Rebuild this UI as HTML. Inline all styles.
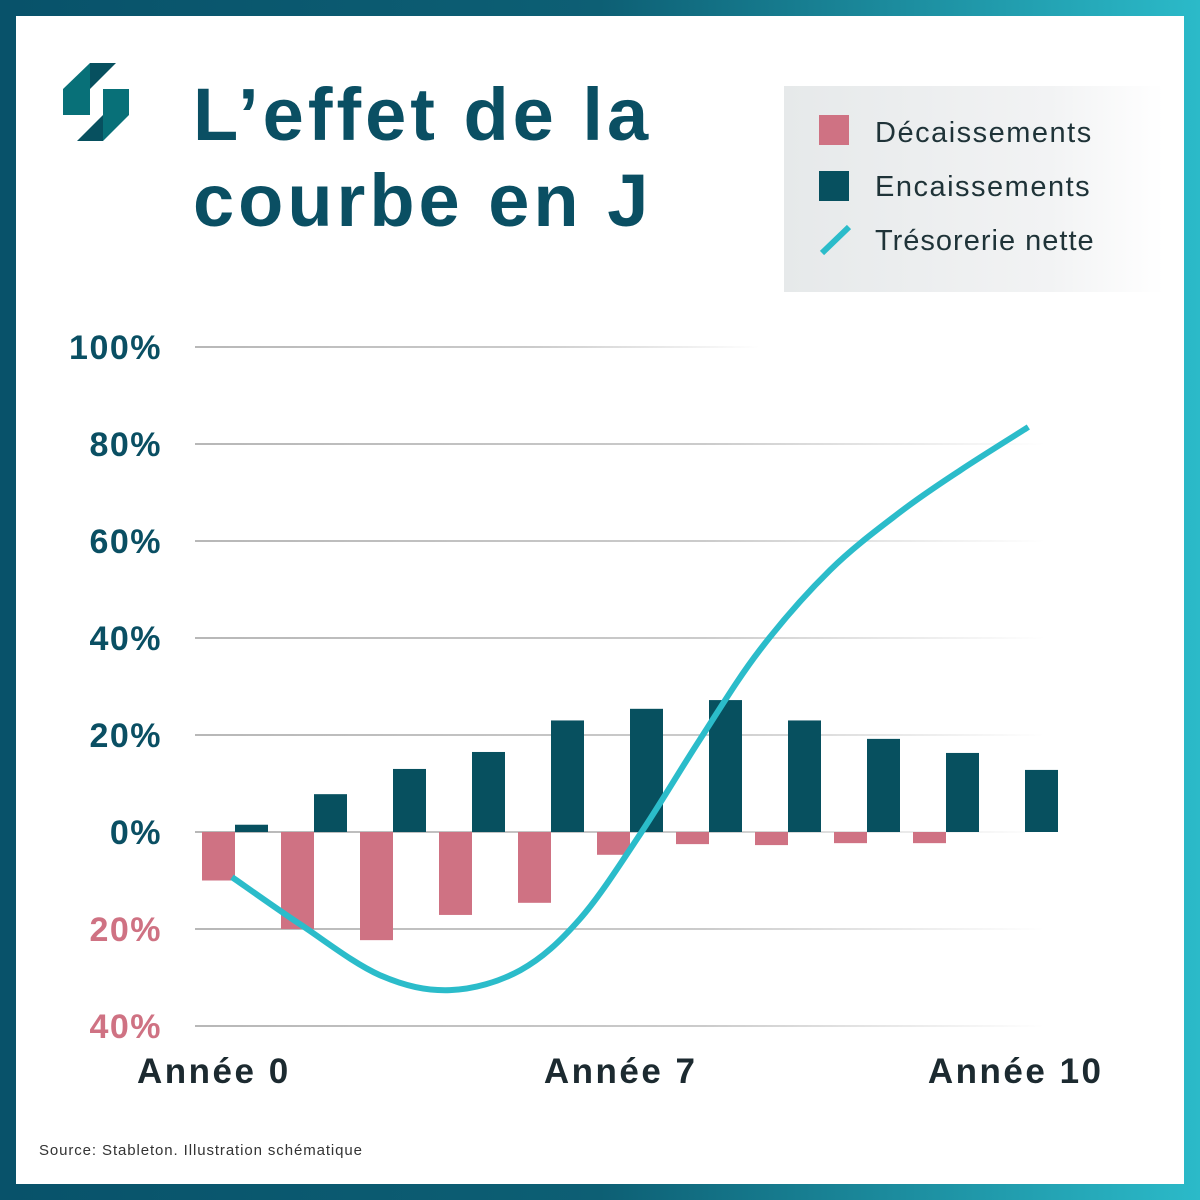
<!DOCTYPE html>
<html><head><meta charset="utf-8"><style>
html,body{margin:0;padding:0}
body{width:1200px;height:1200px;position:relative;font-family:"Liberation Sans",sans-serif;overflow:hidden}
.frame{position:absolute;left:0;top:0;width:1200px;height:1200px;background:linear-gradient(90deg,#08526a 0%,#0d5f74 50%,#2bbac9 100%)}
.inner{position:absolute;left:16px;top:16px;width:1168px;height:1168px;background:#fff}
</style></head><body>
<div class="frame"></div>
<div class="inner"></div>
<svg width="1200" height="1200" style="position:absolute;left:0;top:0">
<defs>
<linearGradient id="lg" x1="0" x2="1"><stop offset="0" stop-color="#e6e9ea"/><stop offset="0.7" stop-color="#f2f3f4"/><stop offset="1" stop-color="#ffffff"/></linearGradient>
<linearGradient id="gg" gradientUnits="userSpaceOnUse" x1="195" y1="0" x2="1045" y2="0"><stop offset="0" stop-color="#999"/><stop offset="0.6" stop-color="#b5b5b5"/><stop offset="1" stop-color="#fff"/></linearGradient>
<linearGradient id="gg2" gradientUnits="userSpaceOnUse" x1="195" y1="0" x2="760" y2="0"><stop offset="0" stop-color="#999"/><stop offset="0.6" stop-color="#b5b5b5"/><stop offset="1" stop-color="#fff"/></linearGradient>
</defs>
<g>
<polygon points="63,89 90,63 90,115 63,115" fill="#087078"/>
<polygon points="90,63 116,63 90,89" fill="#07505f"/>
<polygon points="103,89 129,89 129,115 103,141" fill="#087078"/>
<polygon points="103,115 103,141 77,141" fill="#07505f"/>
</g>
<text x="193" y="140" font-size="74" font-weight="bold" letter-spacing="4" fill="#0a4f63">L’effet de la</text>
<text x="193" y="226" font-size="74" font-weight="bold" letter-spacing="4" fill="#0a4f63">courbe en J</text>
<g>
<rect x="784" y="86" width="380" height="206" fill="url(#lg)"/>
<rect x="819" y="115" width="30" height="30" fill="#cf7283"/>
<text x="875" y="142" font-size="29" letter-spacing="1.5" fill="#1f3338">Décaissements</text>
<rect x="819" y="171" width="30" height="30" fill="#07505f"/>
<text x="875" y="196" font-size="29" letter-spacing="1.5" fill="#1f3338">Encaissements</text>
<line x1="822" y1="253" x2="849" y2="227" stroke="#2bbcca" stroke-width="6"/>
<text x="875" y="250" font-size="29" letter-spacing="1" fill="#1f3338">Trésorerie nette</text>
</g>
<g id="grid"></g><g id="bars"></g><g id="line"></g><g id="labels"></g>
<text x="39" y="1155" font-size="15" letter-spacing="0.9" fill="#333">Source: Stableton. Illustration schématique</text>
</svg>
<script>
const yTicks=[100,80,60,40,20,0,-20,-40];
const yTickLabels=["100%","80%","60%","40%","20%","0%","20%","40%"];
const encaissements=[1.5,7.8,13,16.5,23,25.4,27.2,23,19.2,16.3,12.8];
const decaissements=[-10,-20,-22.3,-17.1,-14.6,-4.7,-2.5,-2.7,-2.3,-2.3];
const tresorerie=[-9.3,-19,-29.5,-32.6,-28.5,-18,-0.6,19,37.5,54,66,74.6,83.5];
const tresoX=[0.38,1.24,2.25,3.14,4.03,4.78,5.54,6.3,7.06,7.95,8.84,9.6,10.46];
const xLabels=["Année 0","Année 7","Année 10"];
const xLabelPos=[0.15,5.3,10.3];
const NS="http://www.w3.org/2000/svg";
const y=v=>832-v*4.85;
const x=i=>202+i*79;
function mk(t,a,p){const e=document.createElementNS(NS,t);for(const k in a)e.setAttribute(k,a[k]);document.getElementById(p).appendChild(e);return e;}
yTicks.forEach((v,i)=>{
 const l=mk('rect',{x:195,width:v===100?565:850,y:y(v)-0.7,height:1.4,fill:v===100?'url(#gg2)':'url(#gg)'},'grid');
 
 
 const t=mk('text',{x:162,y:y(v)+12,'text-anchor':'end','font-size':34,'font-weight':'bold','letter-spacing':1.5,fill:v<0?'#cf7283':'#0a4f63'},'labels');
 t.textContent=yTickLabels[i];
 
 
});
decaissements.forEach((v,i)=>{
 const r=mk('rect',{x:x(i),y:y(0),width:33,height:y(v)-y(0),fill:'#cf7283'},'bars');
 
 
});
encaissements.forEach((v,i)=>{
 const r=mk('rect',{x:x(i)+33,y:y(v),width:33,height:y(0)-y(v),fill:'#07505f'},'bars');
 
 
});
const pts=tresorerie.map((v,i)=>[x(tresoX[i]),y(v)]);
let d='M'+pts[0][0]+','+pts[0][1];
for(let i=0;i<pts.length-1;i++){const p0=pts[Math.max(0,i-1)],p1=pts[i],p2=pts[i+1],p3=pts[Math.min(pts.length-1,i+2)];
 d+=` C${p1[0]+(p2[0]-p0[0])/6},${p1[1]+(p2[1]-p0[1])/6} ${p2[0]-(p3[0]-p1[0])/6},${p2[1]-(p3[1]-p1[1])/6} ${p2[0]},${p2[1]}`;}
const pl=mk('path',{d:d,fill:'none',stroke:'#2bbcca','stroke-width':6},'line');


xLabels.forEach((s,i)=>{
 const t=mk('text',{x:x(xLabelPos[i]),y:1083,'text-anchor':'middle','font-size':35,'font-weight':'bold','letter-spacing':2.5,fill:'#1c2a30'},'labels');
 t.textContent=s;
 
 
});
</script>
</body></html>
